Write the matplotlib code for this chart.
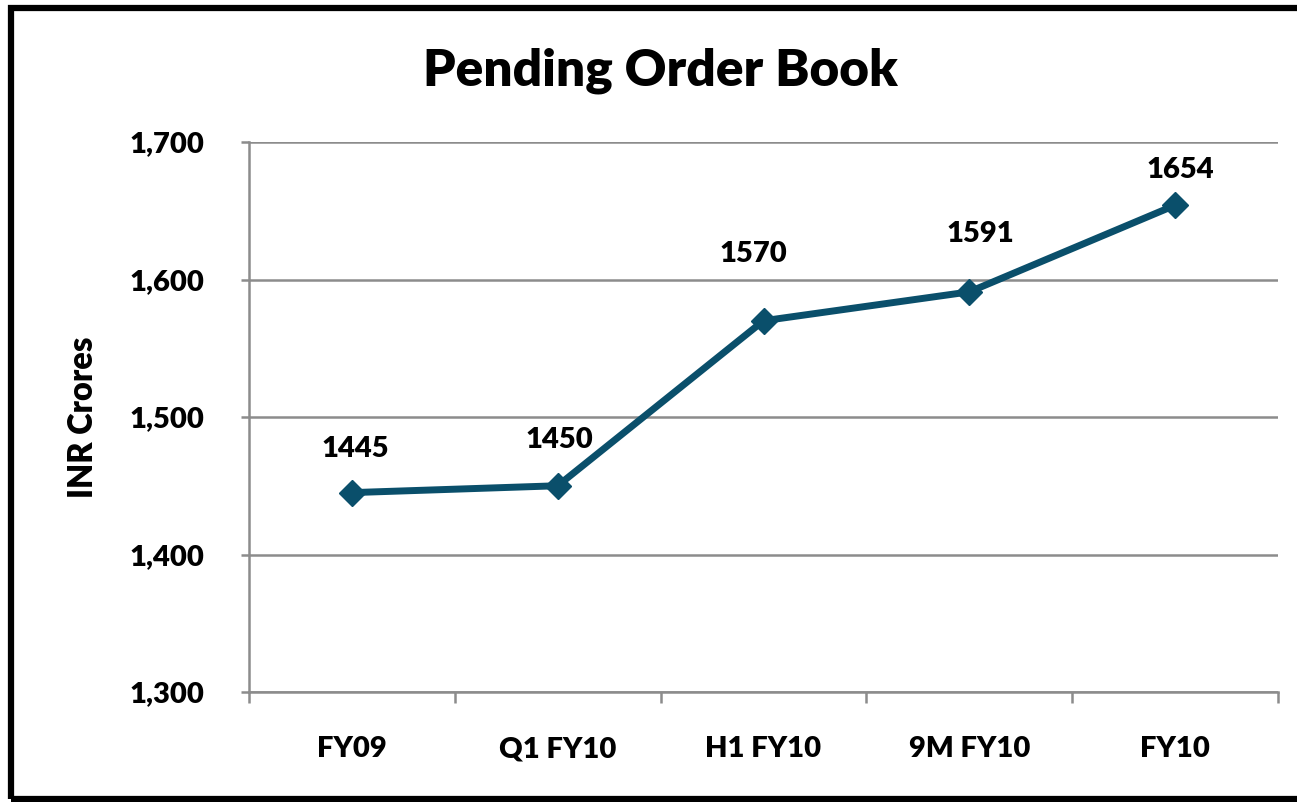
import matplotlib
matplotlib.use("Agg")
import matplotlib.pyplot as plt
from matplotlib.patches import Rectangle

categories = ["FY09", "Q1 FY10", "H1 FY10", "9M FY10", "FY10"]
values = [1445, 1450, 1570, 1591, 1654]
yticks = [1300, 1400, 1500, 1600, 1700]
title = "Pending Order Book"
ylabel = "INR Crores"

# label placement (pixels relative to each point), as in the original chart
label_dx = [3, 2, -10, 11, 5]
label_dy = [44, 46, 67, 58, 35]

plt.rcParams['font.family'] = ['Lato', 'DejaVu Sans']
WT = "heavy"

W, H = 1297, 802
fig = plt.figure(figsize=(W / 100, H / 100), dpi=100)
ax = fig.add_axes([249 / W, 1 - 692 / H, (1278 - 249) / W, (692 - 142) / H])

color = "#0A4F6B"
grid = "#8C8C8C"
x = list(range(len(categories)))
ax.plot(x, values, color=color, lw=5, marker="D", markersize=13, zorder=3,
        solid_capstyle="round")
px2pt = 72 / 100
for xi, v, dx, dy in zip(x, values, label_dx, label_dy):
    ax.annotate(str(v), (xi, v), xytext=(dx * px2pt, dy * px2pt), textcoords="offset points",
                ha="center", va="center", fontsize=21, fontweight=WT)

ax.set_xlim(-0.5, len(categories) - 0.5)
ax.set_ylim(yticks[0], yticks[-1])
ax.set_yticks(yticks)
ax.set_yticklabels([f"{t:,}" for t in yticks], fontsize=21, fontweight=WT)
ax.yaxis.grid(True, color=grid, lw=1.8)
ax.set_axisbelow(True)

ax.set_xticks([i - 0.5 for i in range(len(categories) + 1)])
ax.set_xticklabels([])
ax.set_xticks(x, minor=True)
ax.set_xticklabels(categories, minor=True, fontsize=21, fontweight=WT)
ax.tick_params(axis="x", which="minor", length=0, pad=32)
ax.tick_params(axis="x", which="major", length=8, width=1.8, color=grid, direction="out")
ax.tick_params(axis="y", length=6, width=1.8, color=grid, pad=26)

for s in ["top", "right"]:
    ax.spines[s].set_visible(False)
for s in ["left", "bottom"]:
    ax.spines[s].set_color(grid)
    ax.spines[s].set_linewidth(1.8)

ax.set_ylabel(ylabel, fontsize=23.5, fontweight=WT, labelpad=22)
fig.text(660 / W, 1 - 71 / H, title, ha="center", va="center",
         fontsize=37, fontweight=WT)

fig.patches.append(Rectangle((11 / W, 3 / H), 1.2, 1 - 11 / H, transform=fig.transFigure,
                             fill=False, ec="black", lw=4.5))

fig.savefig("out.png", dpi=100)
